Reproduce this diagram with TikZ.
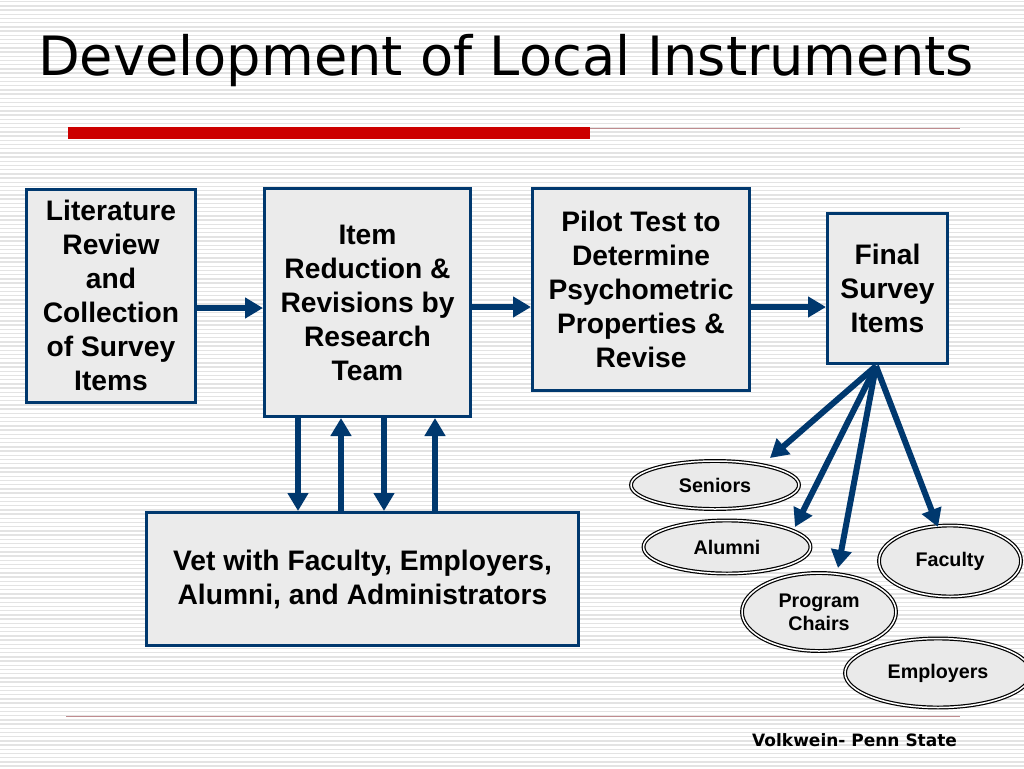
\documentclass[tikz,border=0pt]{standalone}
\usepackage{fontspec}
\setmainfont{Liberation Sans}
\newfontfamily\dejavu{DejaVu Sans}
\usetikzlibrary{arrows.meta,shapes.geometric}
\definecolor{navy}{HTML}{00386E}
\definecolor{boxgray}{HTML}{EBEBEB}
\definecolor{ellgray}{HTML}{EAEAEA}
\definecolor{stripegray}{HTML}{E3E3E3}
\definecolor{barred}{HTML}{CC0000}
\definecolor{thinred}{HTML}{BF8C8F}
\tikzset{
  stripe/.style={draw=stripegray, line width=1.4pt},
  stepbox/.style={draw=navy, line width=3pt, fill=boxgray, align=center, inner sep=0pt,
    font=\bfseries\fontsize{28.2}{34}\selectfont},
  grp/.style={ellipse, draw=black, line width=1.2pt, double=white, double distance=1.5pt,
    fill=ellgray, align=center, inner sep=0pt, font=\bfseries\fontsize{19.7}{23}\selectfont},
  arr/.style={draw=navy, line width=6pt, -{Triangle[length=18pt,width=20pt]}},
}
\begin{document}
\begin{tikzpicture}[x=1pt,y=-1pt]
\useasboundingbox (0,0) rectangle (1024,768);
\clip (0,0) rectangle (1024,768);
\fill[white] (0,0) rectangle (1024,768);
\foreach \i in {0,...,183} \draw[stripe] (0,{1.7+\i*4.2}) -- (1024,{1.7+\i*4.2});

% title
\node[anchor=base west, inner sep=0pt, font=\dejavu\fontsize{54.2}{60}\selectfont] (title) at (38,75) {Development of Local Instruments};
% bars
\fill[barred] (68,127) rectangle (590,139);
\draw[thinred, line width=1.6pt] (590,128.3) -- (960,128.3);
\draw[thinred, line width=1.2pt] (66,716.5) -- (960,716.5);

% boxes
\node[stepbox, minimum width=169pt, minimum height=213pt] (b1) at (111,295.5) {Literature\\Review\\and\\Collection\\of Survey\\Items};
\node[stepbox, minimum width=206pt, minimum height=228pt] (b2) at (367.5,302.5) {Item\\Reduction \&\\Revisions by\\Research\\Team};
\node[stepbox, minimum width=217pt, minimum height=202pt] (b3) at (641,289.5) {Pilot Test to\\Determine\\Psychometric\\Properties \&\\Revise};
\node[stepbox, minimum width=120pt, minimum height=150pt] (b4) at (887.5,288.5) {Final\\Survey\\Items};
\node[stepbox, minimum width=432pt, minimum height=133pt] (b5) at (362.5,579) {Vet with Faculty, Employers,\\Alumni, and Administrators};

% ellipses
\node[grp, minimum width=168pt, minimum height=48pt] (sen) at (715,485) {Seniors};
\node[grp, minimum width=167pt, minimum height=53pt] (alu) at (727,547) {Alumni};
\node[grp, minimum width=154pt, minimum height=78pt] (pch) at (819,612) {Program\\Chairs};
\node[grp, minimum width=142pt, minimum height=71pt] (fac) at (950,561) {Faculty};
\node[grp, minimum width=186pt, minimum height=69pt] (emp) at (938,673) {Employers};

% horizontal arrows
\draw[arr] (b1.east |- 0,308) -- (b2.west |- 0,308);
\draw[arr] (b2.east |- 0,307) -- (b3.west |- 0,307);
\draw[arr] (b3.east |- 0,307) -- (b4.west |- 0,307);

% vertical arrows
\draw[arr] (298,0 |- b2.south) -- (298,0 |- b5.north);
\draw[arr] (341,0 |- b5.north) -- (341,0 |- b2.south);
\draw[arr] (384,0 |- b2.south) -- (384,0 |- b5.north);
\draw[arr] (435,0 |- b5.north) -- (435,0 |- b2.south);

% fan arrows
\coordinate (fan) at (876,366);
\coordinate (tsen) at (770,458);
\coordinate (talu) at (795,527);
\coordinate (tpch) at (838,568);
\coordinate (tfac) at (938,527);
\draw[arr] (fan) -- (tsen);
\draw[arr] (fan) -- (talu);
\draw[arr] (fan) -- (tpch);
\draw[arr] (fan) -- (tfac);

% footer
\node[anchor=base west, inner sep=0pt, font=\dejavu\bfseries\fontsize{17}{20}\selectfont] (foot) at (752,746) {Volkwein- Penn State};
\end{tikzpicture}
\end{document}
